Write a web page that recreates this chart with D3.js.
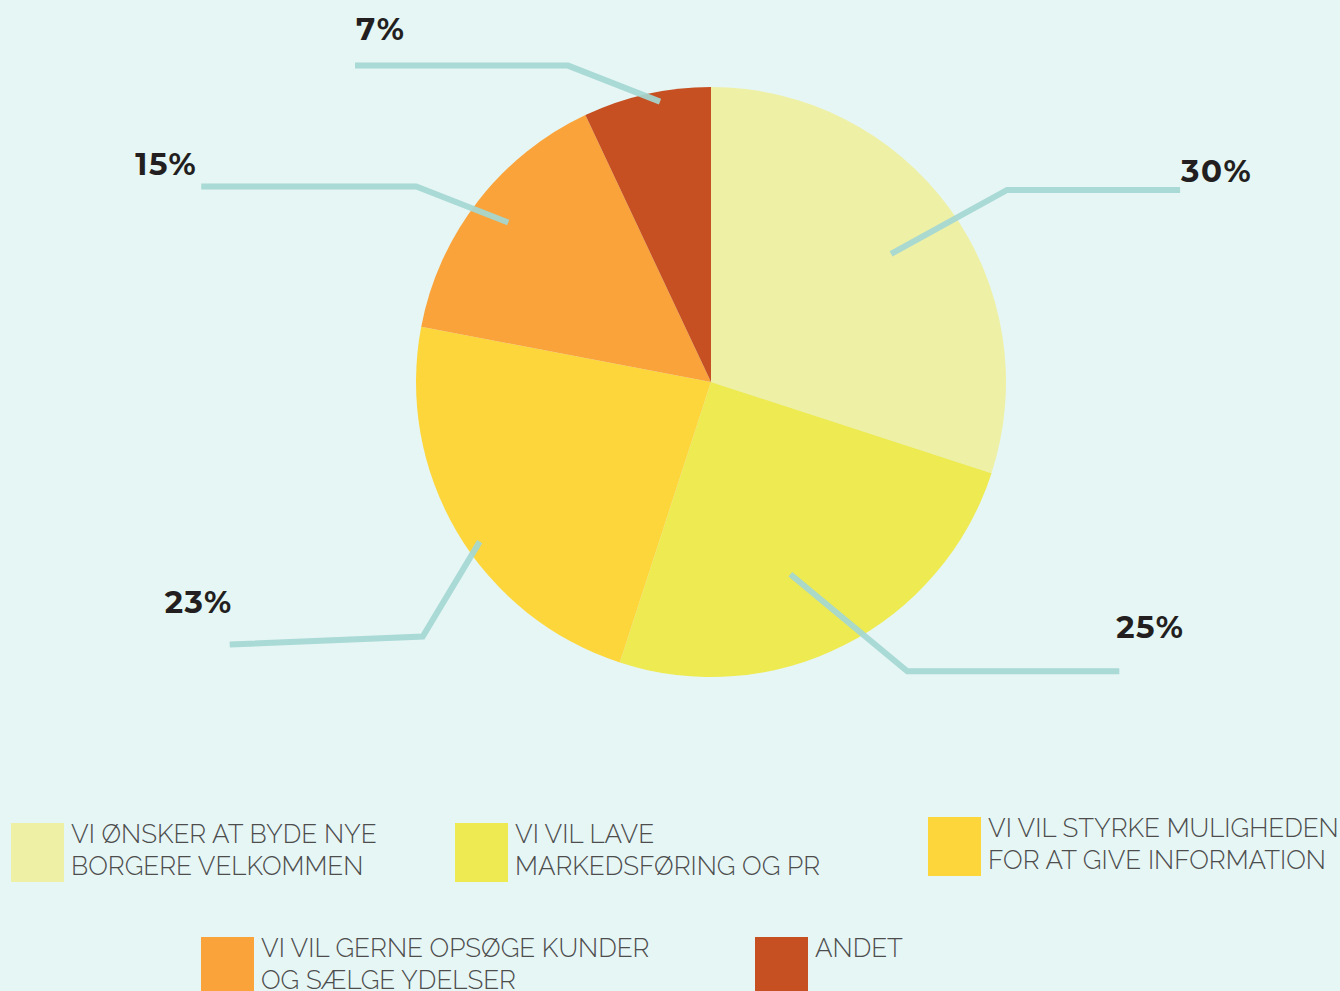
<!DOCTYPE html>
<html><head><meta charset="utf-8">
<script src="https://cdn.jsdelivr.net/npm/d3@7"></script>
<style>
html,body{margin:0;padding:0;background:#E6F6F5;}
svg{display:block;}
</style></head>
<body>
<svg id="chart" width="1340" height="991"></svg>
<script>
// ---- data ----
const categories = [
  ["VI ØNSKER AT BYDE NYE", "BORGERE VELKOMMEN"],
  ["VI VIL LAVE", "MARKEDSFØRING OG PR"],
  ["VI VIL STYRKE MULIGHEDEN", "FOR AT GIVE INFORMATION"],
  ["VI VIL GERNE OPSØGE KUNDER", "OG SÆLGE YDELSER"],
  ["ANDET"]
];
const values = [30, 25, 23, 15, 7];
const valueLabels = ["30%", "25%", "23%", "15%", "7%"];
const colors = ["#EEF0A6", "#EEEA52", "#FDD63C", "#F9A33A", "#C65022"];

// ---- layout (styling, not data) ----
const cx = 711, cy = 382, R = 295;
const leaders = [
  {r: 221, ex: 116, ey: -64, run: 173, lx: 1, ly: -8},
  {r: 208, ex: 117, ey: 97, run: 212, lx: -3, ly: -33},
  {r: 281, ex: -57, ey: 95, run: -193, lx: -65, ly: -32},
  {r: 258, ex: -92, ey: -36, run: -215, lx: -66, ly: -11},
  {r: 285, ex: -92, ey: -36, run: -213, lx: 1, ly: -26}
];
const angleAdjust = [0.01, 0.08, -0.07, 0.007, 0.04];
const legendPos = [
  {x: 11, y: 823}, {x: 455, y: 823}, {x: 928, y: 817},
  {x: 201, y: 937}, {x: 755, y: 937}
];

const svg = d3.select("#chart");
svg.append("rect").attr("width", 1340).attr("height", 991).attr("fill", "#E6F6F5");

const pie = d3.pie().sort(null).value(d => d);
const arcs = pie(values);
const arc = d3.arc().innerRadius(0).outerRadius(R);
const g = svg.append("g").attr("transform", `translate(${cx},${cy})`);

g.selectAll("path.slice").data(arcs).join("path")
  .attr("class", "slice")
  .attr("d", arc)
  .attr("fill", (d, i) => colors[i]);

// leader lines + value labels
const lineG = svg.append("g");
arcs.forEach((a, i) => {
  const L = leaders[i];
  const ang = (a.startAngle + a.endAngle) / 2 + angleAdjust[i];
  const x0 = cx + L.r * Math.sin(ang), y0 = cy - L.r * Math.cos(ang);
  const x1 = x0 + L.ex, y1 = y0 + L.ey;
  const x2 = x1 + L.run, y2 = y1 + (i === 2 ? 8 : 0);
  lineG.append("path")
    .attr("d", d3.line()([[x0, y0], [x1, y1], [x2, y2]]))
    .attr("fill", "none")
    .attr("stroke", "#A4D7D2")
    .attr("stroke-opacity", 0.92)
    .attr("stroke-width", 6);
  svg.append("text")
    .attr("x", x2 + L.lx).attr("y", y2 + L.ly)
    .attr("font-family", "Montserrat, Inter, 'Open Sans', sans-serif")
    .attr("font-weight", 700)
    .attr("font-size", 31)
    .attr("fill", "#231F20")
    .attr("letter-spacing", 1.5)
    .text(valueLabels[i]);
});

// legend
const leg = svg.append("g");
categories.forEach((lines, i) => {
  const p = legendPos[i];
  leg.append("rect").attr("x", p.x).attr("y", p.y).attr("width", 53).attr("height", 59)
    .attr("fill", colors[i]);
  const t = leg.append("text")
    .attr("font-family", "Raleway, Lato, Inter, sans-serif")
    .attr("font-weight", 300)
    .attr("font-size", 26)
    .attr("fill", "#4D4D4D");
  lines.forEach((s, j) => {
    t.append("tspan").attr("x", p.x + 60).attr("y", p.y + 20 + j * 32).text(s);
  });
});
</script>
</body></html>
